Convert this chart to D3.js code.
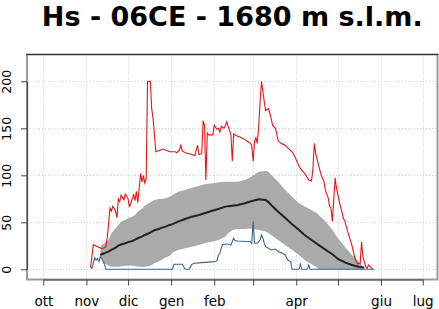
<!DOCTYPE html>
<html><head><meta charset="utf-8">
<script src="https://cdn.jsdelivr.net/npm/d3@7"></script>
<style>body{margin:0;background:#fff}svg{display:block}</style>
</head><body>
<svg id="chart" width="439" height="309"></svg>
<script>
const titleText = "Hs - 06CE - 1680 m s.l.m.";
const monthTicks = ["2021-10-01","2021-11-01","2021-12-01","2022-01-01","2022-02-01","2022-03-01","2022-04-01","2022-05-01","2022-06-01","2022-07-01"];
const monthLabels = ["ott","nov","dic","gen","feb","","apr","","giu","lug"];
const yTicks = [0,50,100,150,200];

// max snow depth (cm)
const maxDates = ["2021-11-04","2021-11-06","2021-11-12","2021-11-14","2021-11-15","2021-11-16","2021-11-18","2021-11-19","2021-11-20","2021-11-22","2021-11-23","2021-11-24","2021-11-25","2021-11-26","2021-11-28","2021-11-29","2021-11-30","2021-12-01","2021-12-02","2021-12-04","2021-12-05","2021-12-06","2021-12-07","2021-12-08","2021-12-10","2021-12-11","2021-12-12","2021-12-13","2021-12-14","2021-12-15","2021-12-17","2021-12-18","2021-12-19","2021-12-21","2021-12-26","2021-12-31","2022-01-04","2022-01-05","2022-01-07","2022-01-08","2022-01-09","2022-01-11","2022-01-14","2022-01-18","2022-01-20","2022-01-21","2022-01-23","2022-01-24","2022-01-25","2022-01-26","2022-01-27","2022-01-28","2022-01-30","2022-01-31","2022-02-01","2022-02-03","2022-02-04","2022-02-05","2022-02-06","2022-02-08","2022-02-09","2022-02-10","2022-02-11","2022-02-12","2022-02-13","2022-02-14","2022-02-15","2022-02-17","2022-02-19","2022-02-22","2022-02-24","2022-02-25","2022-02-27","2022-02-28","2022-03-01","2022-03-02","2022-03-03","2022-03-04","2022-03-05","2022-03-06","2022-03-07","2022-03-08","2022-03-09","2022-03-10","2022-03-12","2022-03-13","2022-03-14","2022-03-15","2022-03-17","2022-03-18","2022-03-19","2022-03-21","2022-03-24","2022-03-26","2022-03-29","2022-03-31","2022-04-02","2022-04-04","2022-04-06","2022-04-08","2022-04-10","2022-04-12","2022-04-13","2022-04-14","2022-04-15","2022-04-17","2022-04-19","2022-04-21","2022-04-22","2022-04-24","2022-04-25","2022-04-26","2022-04-27","2022-04-29","2022-04-30","2022-05-02","2022-05-05","2022-05-06","2022-05-08","2022-05-11","2022-05-13","2022-05-15","2022-05-17","2022-05-18","2022-05-19","2022-05-21","2022-05-22","2022-05-23","2022-05-24","2022-05-26"];
const maxValues = [2,26,22,23,24,33,65,62,67,62,55,75,72,79,74,80,78,75,66,75,80,73,83,71,102,93,100,92,96,200,200,171,160,125,128,125,125,124,127,132,126,124,123,121,132,122,123,158,153,95,145,143,143,143,153,149,150,146,152,150,153,157,152,148,143,115,144,142,141,139,137,136,134,132,115,136,140,134,153,178,200,189,178,169,171,166,160,153,150,144,137,134,132,129,125,120,113,107,104,100,95,94,107,134,123,111,100,93,84,76,67,65,51,97,86,72,54,51,40,26,13,6,6,29,13,3,1,4.5,3,0];

// min snow depth (cm)
const minDates = ["2021-11-04","2021-11-05","2021-11-07","2021-11-08","2021-11-09","2021-11-10","2021-11-11","2021-11-12","2021-11-13","2021-11-14","2021-11-15","2022-01-02","2022-01-03","2022-01-09","2022-01-11","2022-01-14","2022-01-16","2022-01-18","2022-01-23","2022-02-01","2022-02-02","2022-02-03","2022-02-04","2022-02-05","2022-02-06","2022-02-07","2022-02-12","2022-02-13","2022-02-15","2022-02-16","2022-02-18","2022-02-27","2022-02-28","2022-03-01","2022-03-02","2022-03-04","2022-03-05","2022-03-06","2022-03-07","2022-03-08","2022-03-09","2022-03-10","2022-03-12","2022-03-14","2022-03-17","2022-03-19","2022-03-22","2022-03-24","2022-03-26","2022-03-28","2022-03-29","2022-04-03","2022-04-04","2022-04-05","2022-04-09","2022-04-10","2022-04-11","2022-05-27"];
const minValues = [2.8,1,12.3,9.9,11.7,8.2,13.5,11.7,8.2,5.3,0,0,5.3,5.3,0,0,5.3,6.4,7.1,8.2,8.5,9,15.2,17,22.3,26.6,26.6,25.9,33,30.5,30.1,29.4,27.7,50.7,27.7,27.7,29.4,31.2,36.5,33,27.7,24.1,22.3,20.6,21.6,18.8,17,15.2,9.9,8.2,0,0,5.3,0,0,4.6,0,0];

// statistics: percentile band and mean
const statDates = ["2021-11-11","2021-11-12","2021-11-14","2021-11-17","2021-11-19","2021-11-22","2021-11-24","2021-11-26","2021-11-29","2021-12-01","2021-12-04","2021-12-06","2021-12-08","2021-12-11","2021-12-13","2021-12-16","2021-12-18","2021-12-20","2021-12-23","2021-12-25","2021-12-28","2021-12-31","2022-01-02","2022-01-06","2022-01-11","2022-01-16","2022-01-21","2022-01-25","2022-01-30","2022-02-04","2022-02-09","2022-02-11","2022-02-14","2022-02-18","2022-02-23","2022-02-27","2022-03-05","2022-03-10","2022-03-12","2022-03-14","2022-03-19","2022-03-24","2022-03-29","2022-04-03","2022-04-07","2022-04-12","2022-04-16","2022-04-17","2022-04-22","2022-04-27","2022-05-01","2022-05-06","2022-05-11","2022-05-16","2022-05-18","2022-05-19","2022-05-20"];
const lowBand  = [13,11,6.4,3.9,2.8,2.8,2.8,3.2,3.9,3.9,3.9,3.5,2.8,2.8,2.8,3.2,4.6,6.4,8.2,9.9,12.5,14.5,18,20.6,22.3,24.1,25.9,27.7,29.4,31.2,34.7,38.3,41.8,42.9,42.9,43.5,41.8,40.1,38.5,36.5,31.2,25.9,20.6,15.2,9.9,5.3,1.8,0,0,0,0,0,0,0,0,0,0];
const highBand = [20,26,27.7,31.2,38.3,43.6,47.2,50.7,52.5,54.3,56,57.8,61.3,64.8,67.7,70.2,72,73.7,74.8,74.8,75.5,77.2,79,82.6,84.3,86.8,88.6,90.4,91.4,92.5,93.2,93.2,93.2,93.2,95,98,103.9,104.6,103.9,100.3,93.2,84.3,77.2,70.2,66.7,63.1,59.5,57.8,51,42,33,24.1,15.2,8.2,4.6,0.5,0];
const meanValues = [15.2,16,17,19,20.6,23,25.2,26.4,27.7,28.9,30.1,31.5,33,34.8,36.5,38.3,40.1,41.5,42.9,44.1,45.4,47.2,48,50.7,53.5,56,57.8,59.6,62,64.1,66.7,67.2,67.7,68.4,70.2,72.2,74.4,73.7,71.5,68.4,61.3,54.9,47.9,41.8,36.5,31.2,27,25.9,21,16,11,7.4,4.6,2.8,2.3,2,1.8];

const parse = d3.utcParse("%Y-%m-%d");
const svg = d3.select("#chart");
const plot = {left: 27, right: 437.5, top: 54.5, bottom: 279.5};

const x = d3.scaleUtc().domain([parse(monthTicks[0]), parse(monthTicks[monthTicks.length-1])]).range([43.3, 422.7]);
const y = d3.scaleLinear().domain([0, 200]).range([269.3, 81.3]);

// title
svg.append("text").attr("x", (plot.left+plot.right)/2).attr("y", 25.5)
  .attr("text-anchor","middle").attr("font-family","DejaVu Sans").attr("font-weight","bold")
  .attr("font-size", 27).attr("fill","#000").text(titleText);

// grid
const grid = svg.append("g").attr("stroke","#cfcfcf").attr("stroke-width",1).attr("stroke-dasharray","1 2");
yTicks.forEach(t => grid.append("line").attr("x1", plot.left).attr("x2", plot.right).attr("y1", Math.round(y(t))+0.5).attr("y2", Math.round(y(t))+0.5));
monthTicks.forEach(m => grid.append("line").attr("y1", plot.top).attr("y2", plot.bottom).attr("x1", Math.round(x(parse(m)))+0.5).attr("x2", Math.round(x(parse(m)))+0.5));

// band + mean
const stats = statDates.map((d,i) => ({date: parse(d), lo: lowBand[i], hi: highBand[i], mean: meanValues[i]}));
svg.append("path").datum(stats).attr("fill","#aaaaaa").attr("stroke","none")
  .attr("d", d3.area().x(d => x(d.date)).y0(d => y(d.lo)).y1(d => y(d.hi)));
svg.append("path").datum(stats).attr("fill","none").attr("stroke","#222").attr("stroke-width",2)
  .attr("d", d3.line().x(d => x(d.date)).y(d => y(d.mean)));

// max
const maxData = maxDates.map((d,i) => ({date: parse(d), v: maxValues[i]}));
svg.append("path").datum(maxData).attr("fill","none").attr("stroke","#e3171c").attr("stroke-width",1.1)
  .attr("d", d3.line().x(d => x(d.date)).y(d => y(d.v)));
// min
const minData = minDates.map((d,i) => ({date: parse(d), v: minValues[i]}));
svg.append("path").datum(minData).attr("fill","none").attr("stroke","#3d6686").attr("stroke-width",1.1)
  .attr("d", d3.line().x(d => x(d.date)).y(d => y(d.v)));

// frame
svg.append("rect").attr("x", plot.left).attr("y", plot.top).attr("width", plot.right-plot.left).attr("height", plot.bottom-plot.top)
  .attr("fill","none").attr("stroke","#9a9a9a").attr("stroke-width",2);
svg.append("line").attr("x1", plot.left-1).attr("x2", plot.right+1).attr("y1", plot.top).attr("y2", plot.top).attr("stroke","#333").attr("stroke-width",1.2);

// axes
const xAxis = d3.axisBottom(x).tickValues(monthTicks.map(parse)).tickFormat((d,i) => monthLabels[i]).tickSize(6).tickSizeOuter(0).tickPadding(11);
const gx = svg.append("g").attr("transform", `translate(0,${plot.bottom})`).call(xAxis);
gx.select(".domain").attr("stroke","#444").attr("stroke-width",1.2);
gx.selectAll(".tick line").attr("stroke","#444");
gx.selectAll("text").attr("font-family","DejaVu Sans").attr("font-size",13.5).attr("fill","#000");

const yAxis = d3.axisLeft(y).tickValues(yTicks).tickSize(6).tickSizeOuter(0).tickFormat(d3.format("d"));
const gy = svg.append("g").attr("transform", `translate(${plot.left},0)`).call(yAxis);
gy.select(".domain").attr("stroke","#444").attr("stroke-width",1.2);
gy.selectAll(".tick line").attr("stroke","#444");
gy.selectAll(".tick text").attr("x", null).attr("dy", null)
  .attr("transform", "translate(-16.5,0) rotate(-90)")
  .attr("text-anchor","middle").attr("font-family","DejaVu Sans").attr("font-size",12.5).attr("fill","#000");
</script>
</body></html>
